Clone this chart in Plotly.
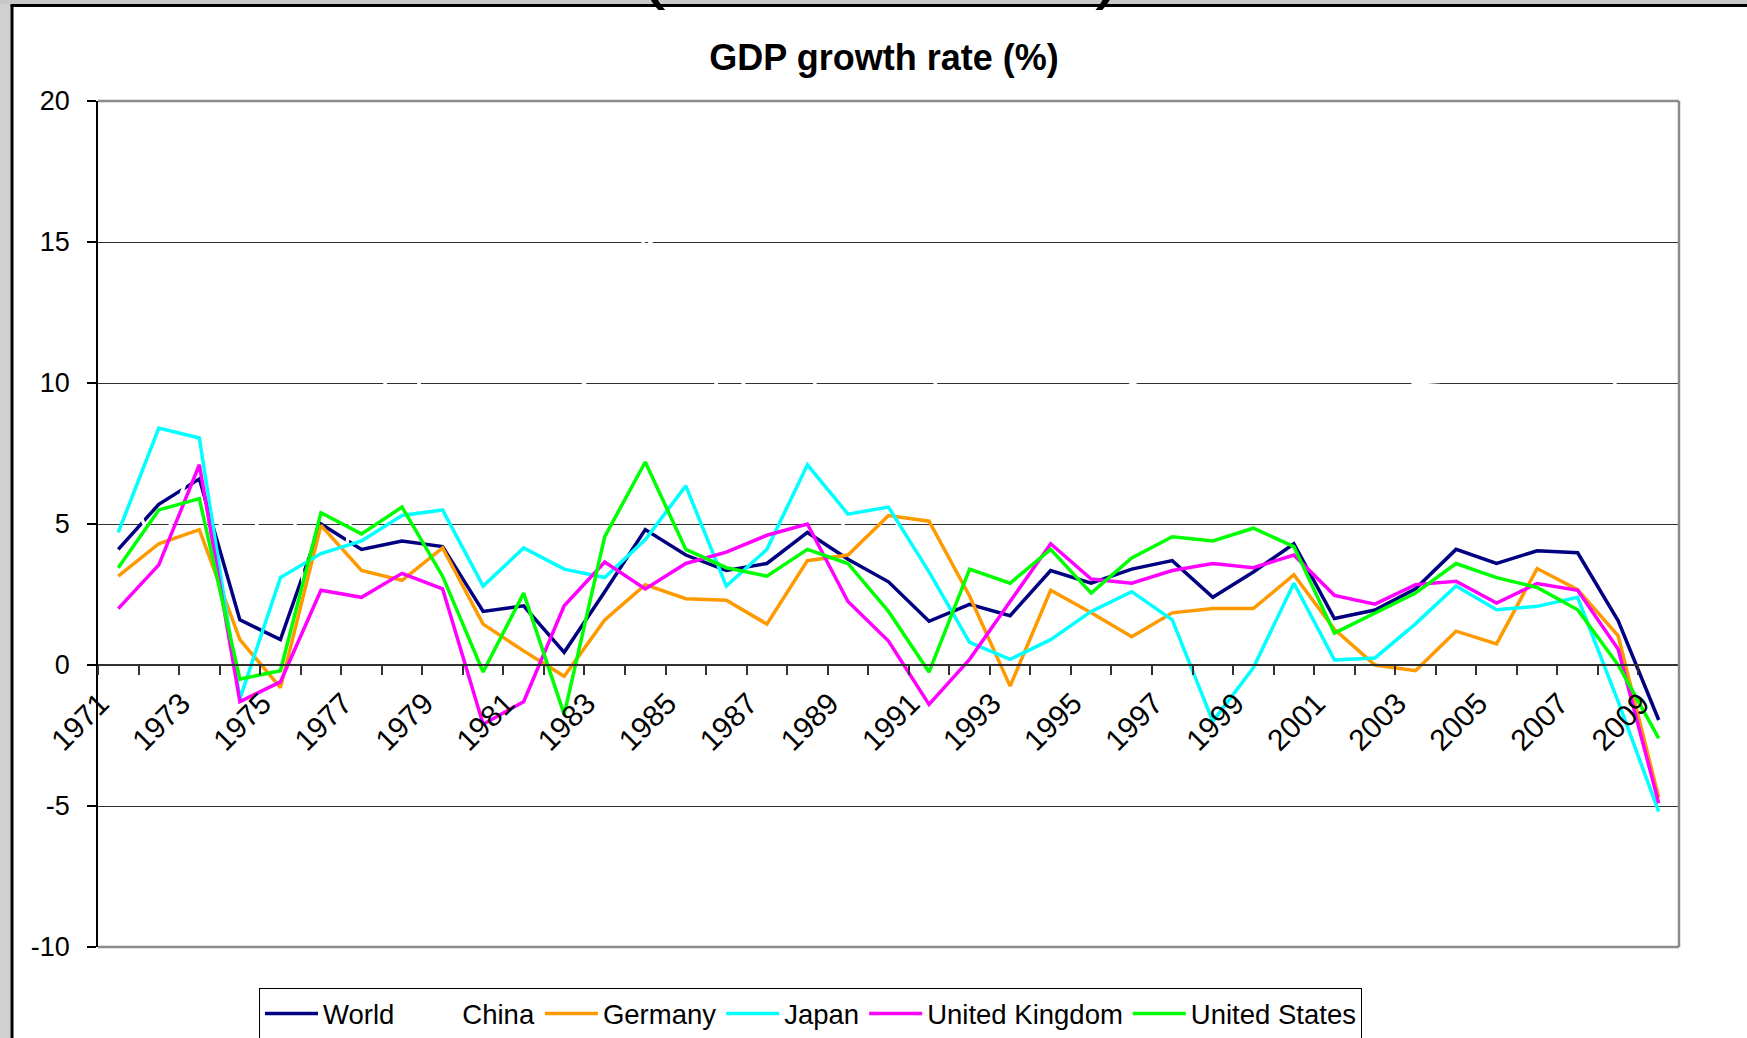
import plotly.graph_objects as go

years = [1971, 1972, 1973, 1974, 1975, 1976, 1977, 1978, 1979, 1980,
         1981, 1982, 1983, 1984, 1985, 1986, 1987, 1988, 1989, 1990,
         1991, 1992, 1993, 1994, 1995, 1996, 1997, 1998, 1999, 2000,
         2001, 2002, 2003, 2004, 2005, 2006, 2007, 2008, 2009]

world = [4.1, 5.7, 6.6, 1.6, 0.9, 5.0, 4.1, 4.4, 4.2, 1.9,
         2.1, 0.45, 2.6, 4.8, 3.9, 3.35, 3.6, 4.7, 3.75, 2.95,
         1.55, 2.15, 1.75, 3.35, 2.9, 3.4, 3.7, 2.4, 3.3, 4.3,
         1.65, 1.95, 2.7, 4.1, 3.6, 4.05, 3.98, 1.57, -1.95]

china = [7.1, 3.8, 7.9, 2.3, 8.7, -1.6, 7.6, 11.7, 7.6, 7.8,
         5.2, 9.1, 10.9, 15.2, 13.5, 8.8, 11.6, 11.3, 4.1, 3.8,
         9.2, 14.2, 14.0, 13.1, 10.9, 10.0, 9.3, 7.8, 7.6, 8.4,
         8.3, 9.1, 10.0, 10.1, 11.3, 12.7, 14.2, 9.6, 9.1]

germany = [3.15, 4.3, 4.8, 0.9, -0.8, 4.95, 3.35, 3.0, 4.15, 1.45,
           0.5, -0.4, 1.6, 2.85, 2.35, 2.3, 1.45, 3.7, 3.9, 5.3,
           5.1, 2.45, -0.75, 2.65, 1.85, 1.0, 1.85, 2.0, 2.0, 3.2,
           1.27, 0.0, -0.2, 1.2, 0.75, 3.42, 2.67, 1.03, -4.7]

japan = [4.7, 8.4, 8.05, -1.2, 3.1, 3.95, 4.4, 5.3, 5.5, 2.8,
         4.15, 3.4, 3.1, 4.45, 6.35, 2.8, 4.1, 7.1, 5.35, 5.6,
         3.3, 0.8, 0.2, 0.9, 1.9, 2.6, 1.6, -2.0, -0.1, 2.9,
         0.18, 0.25, 1.46, 2.8, 1.96, 2.08, 2.4, -1.3, -5.2]

uk = [2.0, 3.55, 7.1, -1.3, -0.6, 2.65, 2.4, 3.25, 2.7, -2.1,
      -1.3, 2.1, 3.65, 2.7, 3.6, 4.0, 4.6, 5.0, 2.25, 0.85,
      -1.4, 0.2, 2.25, 4.3, 3.05, 2.9, 3.35, 3.6, 3.45, 3.9,
      2.47, 2.16, 2.85, 2.97, 2.2, 2.89, 2.65, 0.56, -4.9]

us = [3.45, 5.5, 5.9, -0.5, -0.2, 5.4, 4.65, 5.6, 3.15, -0.25,
      2.55, -1.75, 4.55, 7.2, 4.1, 3.45, 3.15, 4.1, 3.6, 1.9,
      -0.25, 3.4, 2.9, 4.1, 2.55, 3.8, 4.55, 4.4, 4.85, 4.2,
      1.13, 1.85, 2.55, 3.6, 3.1, 2.75, 1.96, 0.0, -2.6]

series_names = ["World", "China", "Germany", "Japan", "United Kingdom", "United States"]
series_values = [world, china, germany, japan, uk, us]
series_colors = ["#000080", "#FFFFFF", "#FF9900", "#00FFFF", "#FF00FF", "#00FF00"]

tick_years = [1971, 1973, 1975, 1977, 1979, 1981, 1983, 1985, 1987, 1989,
              1991, 1993, 1995, 1997, 1999, 2001, 2003, 2005, 2007, 2009]
tick_labels = ["1971", "1973", "1975", "1977", "1979", "1981", "1983", "1985", "1987", "1989",
               "1991", "1993", "1995", "1997", "1999", "2001", "2003", "2005", "2007", "2009"]

y_ticks = [-10, -5, 0, 5, 10, 15, 20]
y_labels = ["-10", "-5", "0", "5", "10", "15", "20"]

W, H = 1747, 1038
ML, MR, MT, MB = 98, 68, 101, 91
PW = W - ML - MR
PH = H - MT - MB
FONT = "Liberation Sans, Arial, sans-serif"


def px_x(px):
    return (px - ML) / PW


def px_y(py):
    return (H - MB - py) / PH


fig = go.Figure()
for name, vals, col in zip(series_names, series_values, series_colors):
    fig.add_trace(go.Scatter(
        x=years, y=vals, name=name, mode="lines",
        line=dict(color=col, width=3.5),
    ))

ymin, ymax = -10, 20
zero_pos = (0 - ymin) / (ymax - ymin)

fig.update_layout(
    width=W, height=H,
    margin=dict(l=ML, r=MR, t=MT, b=MB, autoexpand=False),
    paper_bgcolor="white", plot_bgcolor="white",
    font=dict(family=FONT, color="black", size=27),
    title=dict(text="<b>GDP growth rate (%)</b>", x=px_x(884),
               xanchor="center", y=1 - 57 / H, yanchor="middle",
               xref="paper", yref="container",
               font=dict(size=36, family=FONT, color="black")),
    showlegend=True,
    legend=dict(orientation="h", x=px_x(259), xanchor="left",
                y=px_y(988), yanchor="top",
                bordercolor="black", borderwidth=1, bgcolor="white",
                itemwidth=53,
                font=dict(size=27.5, family=FONT, color="black"),
                traceorder="normal"),
    xaxis=dict(
        range=[1970.5, 2009.5], anchor="free", position=zero_pos,
        tickmode="array", tickvals=tick_years, ticktext=tick_labels,
        tickangle=-45, ticks="", showgrid=False, zeroline=False,
        showline=True, linecolor="#303030", linewidth=1.5,
        ticklabelstandoff=8, ticklabelshift=-18,
        tickfont=dict(size=30, family=FONT, color="black"),
        minor=dict(tick0=1970.5, dtick=1, ticks="outside", ticklen=9,
                   tickwidth=1.5, tickcolor="#303030", showgrid=False),
        automargin=False,
    ),
    yaxis=dict(
        range=[ymin, ymax], tickmode="array", tickvals=y_ticks, ticktext=y_labels,
        ticks="outside", ticklen=9, tickwidth=1.5, tickcolor="black",
        showgrid=True, gridcolor="#303030", gridwidth=1.2,
        zeroline=False, showline=True, linecolor="black", linewidth=1.5,
        ticklabelstandoff=12,
        tickfont=dict(size=27, family=FONT, color="black"),
        automargin=False,
    ),
)

shapes = []
# plot-area border (top, right, bottom) in gray
shapes.append(dict(type="line", xref="paper", yref="paper", x0=0, x1=1, y0=1, y1=1,
                   line=dict(color="#8a8a8a", width=2.5), layer="above"))
shapes.append(dict(type="line", xref="paper", yref="paper", x0=1, x1=1, y0=0, y1=1,
                   line=dict(color="#8a8a8a", width=2.5), layer="above"))
shapes.append(dict(type="line", xref="paper", yref="paper", x0=0, x1=1, y0=0, y1=0,
                   line=dict(color="#8a8a8a", width=2.5), layer="above"))
# slide frame: gray strips and black border lines
shapes.append(dict(type="rect", xref="paper", yref="paper",
                   x0=px_x(0), x1=px_x(10.5), y0=px_y(H), y1=px_y(0),
                   fillcolor="#d0d0d0", line=dict(width=0), layer="above"))
shapes.append(dict(type="rect", xref="paper", yref="paper",
                   x0=px_x(0), x1=px_x(W), y0=px_y(4), y1=px_y(0),
                   fillcolor="#c8c8c8", line=dict(width=0), layer="above"))
shapes.append(dict(type="line", xref="paper", yref="paper",
                   x0=px_x(12), x1=px_x(12), y0=px_y(H), y1=px_y(5),
                   line=dict(color="black", width=3), layer="above"))
shapes.append(dict(type="line", xref="paper", yref="paper",
                   x0=px_x(10.5), x1=px_x(W), y0=px_y(5.5), y1=px_y(5.5),
                   line=dict(color="black", width=3), layer="above"))
fig.update_layout(shapes=shapes)

# bottoms of the large parentheses of the slide heading, cut off at the top edge
for ch, xp in [("(", 652), (")", 1108)]:
    fig.add_annotation(text=ch, xref="paper", yref="paper", x=px_x(xp), y=px_y(12),
                       xanchor="center", yanchor="bottom", showarrow=False,
                       font=dict(size=80, family=FONT, color="black"))

fig.write_html("out.html",
               config={"displayModeBar": False},
               post_script="document.body.style.margin='0';document.body.style.overflow='hidden';")
